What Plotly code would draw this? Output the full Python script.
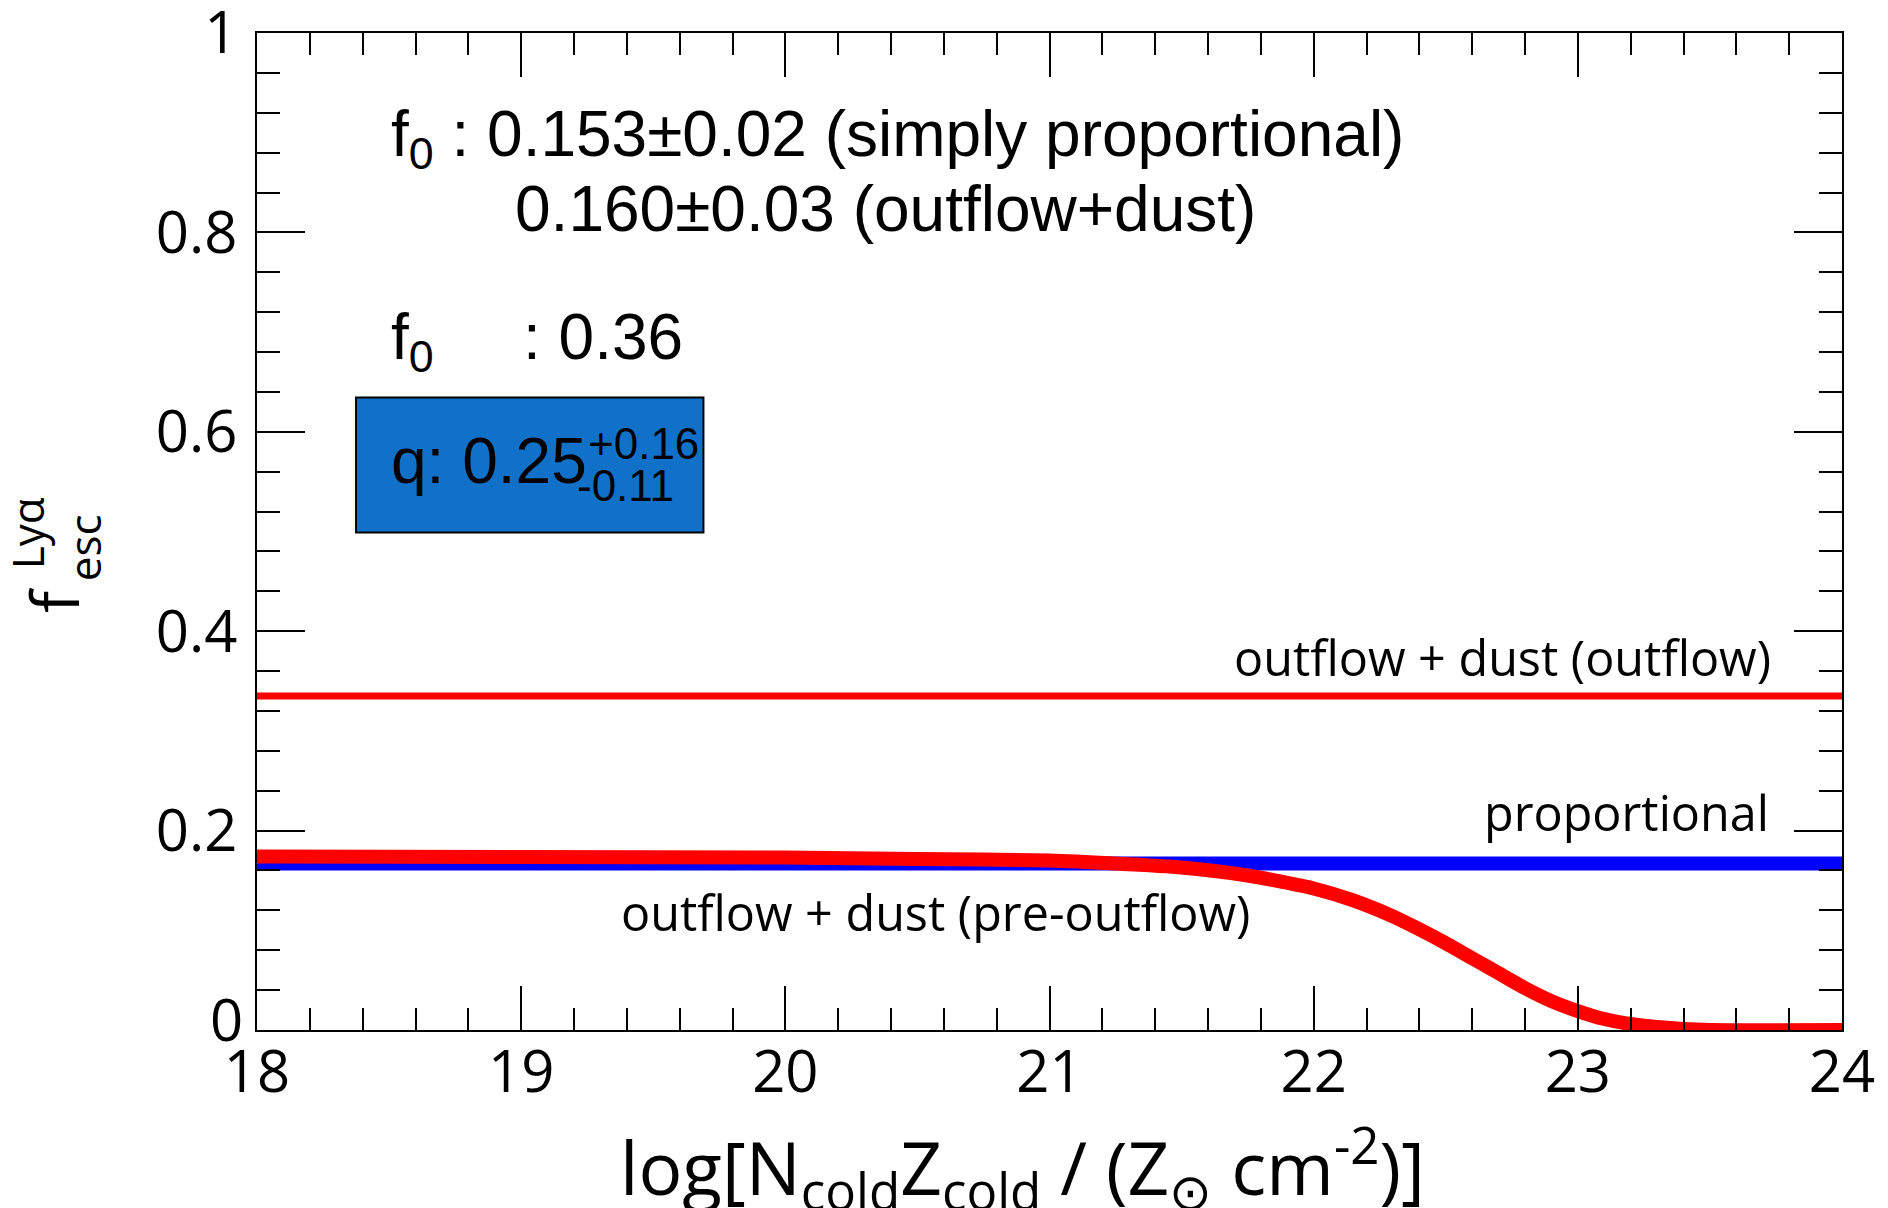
import plotly.graph_objects as go

# ---- data ----
x_line = [18, 24]
outflow_y = [0.335, 0.335]
proportional_y = [0.167, 0.167]

pre_x = [18, 19, 20, 20.5, 21, 21.25, 21.5, 21.75, 22, 22.15, 22.3, 22.4, 22.5,
         22.6, 22.7, 22.8, 22.9, 23.0, 23.1, 23.2, 23.3, 23.4, 23.5, 24]
pre_y = [0.174, 0.1735, 0.173, 0.1715, 0.170, 0.167, 0.163, 0.155, 0.142, 0.130,
         0.114, 0.101, 0.087, 0.072, 0.057, 0.042, 0.029, 0.019, 0.011, 0.006,
         0.003, 0.001, 0.0, 0.0]

x_ticks = [18, 19, 20, 21, 22, 23, 24]
y_ticks = [0, 0.2, 0.4, 0.6, 0.8, 1]
y_ticklabels = ["0", "0.2", "0.4", "0.6", "0.8", "1"]

HUM = "Open Sans"
ARI = "Liberation Sans"

fig = go.Figure()
fig.add_trace(go.Scatter(x=x_line, y=outflow_y, mode="lines",
                         line=dict(color="#FF0000", width=7), showlegend=False))
fig.add_trace(go.Scatter(x=x_line, y=proportional_y, mode="lines",
                         line=dict(color="#0000FF", width=14), showlegend=False))
fig.add_trace(go.Scatter(x=pre_x, y=pre_y, mode="lines",
                         line=dict(color="#FF0000", width=14, shape="spline", smoothing=0.6),
                         showlegend=False))

axis_common = dict(showline=True, linecolor="black", linewidth=2, mirror="allticks",
                   ticks="inside", tickcolor="black", tickwidth=2, automargin=False,
                   showgrid=False, zeroline=False, ticklabeloverflow="allow",
                   tickfont=dict(family=HUM, size=58, color="black"))

fig.update_xaxes(range=[18, 24], tickvals=x_ticks, ticklen=44,
                 minor=dict(dtick=0.2, ticklen=22, ticks="inside", tickcolor="black", tickwidth=2),
                 ticklabelstandoff=-10, **axis_common)
# the "0" label of the y axis sits a little higher in the reference: drawn as an annotation below
fig.update_yaxes(range=[0, 1], tickvals=y_ticks, ticktext=[""] + y_ticklabels[1:], ticklen=48,
                 minor=dict(dtick=0.04, ticklen=23, ticks="inside", tickcolor="black", tickwidth=2),
                 ticklabelstandoff=6, **axis_common)

# blue box
fig.add_shape(type="rect", xref="x", yref="y", x0=18.375, x1=19.69, y0=0.499, y1=0.6345,
              fillcolor="#1170C8", line=dict(color="black", width=2), layer="above")

ann = []
def A(text, x, y, size, family, xanchor="left", yanchor="middle", xref="x", yref="y",
      angle=0, xshift=0, yshift=0):
    ann.append(dict(text=text, x=x, y=y, xref=xref, yref=yref, xanchor=xanchor, yanchor=yanchor,
                    showarrow=False, textangle=angle, xshift=xshift, yshift=yshift,
                    font=dict(family=family, size=size, color="black")))

A(y_ticklabels[0], 0, y_ticks[0], 58, HUM, xanchor="right", xref="paper", xshift=-12, yshift=12)

A("f<sub>0</sub> : 0.153±0.02 (simply proportional)", 18.50, 0.895, 64, ARI)
A("0.160±0.03 (outflow+dust)", 18.97, 0.823, 64, ARI)
A("f<sub>0</sub>", 18.50, 0.691, 64, ARI)
A(": 0.36", 19.00, 0.695, 64, ARI)
A("q: 0.25", 18.50, 0.571, 64, ARI)
A("+0.16", 19.245, 0.588, 44, ARI)
A("-0.11", 19.205, 0.546, 44, ARI)

A("outflow + dust (outflow)", 23.74, 0.374, 48.5, HUM, xanchor="right")
A("proportional", 23.73, 0.219, 48.5, HUM, xanchor="right")
A("outflow + dust (pre-outflow)", 19.37, 0.118, 48.5, HUM)

# axis titles
A("log[N<sub>cold</sub>Z<sub>cold</sub> / (Z<sub>⊙</sub> cm<sup>-2</sup>)]",
  0.483, -0.137, 73, HUM, xanchor="center", xref="paper", yref="paper")
A("f", -0.129, (1030 - 598) / 1003, 66, HUM, xanchor="center", xref="paper", yref="paper", angle=-90)
A("esc", -0.109, (1030 - 545) / 1003, 44, HUM, xanchor="center", xref="paper", yref="paper", angle=-90)
A("Lyα", -0.145, (1030 - 530) / 1003, 44, HUM, xanchor="center", xref="paper", yref="paper", angle=-90)

# page body has an 8px margin: shrink the figure so the plot lands where the reference has it
fig.update_layout(width=1880, height=1200, margin=dict(l=249, r=46, t=25, b=178, autoexpand=False),
                  paper_bgcolor="white", plot_bgcolor="white", annotations=ann)

fig.write_html("out.html")
